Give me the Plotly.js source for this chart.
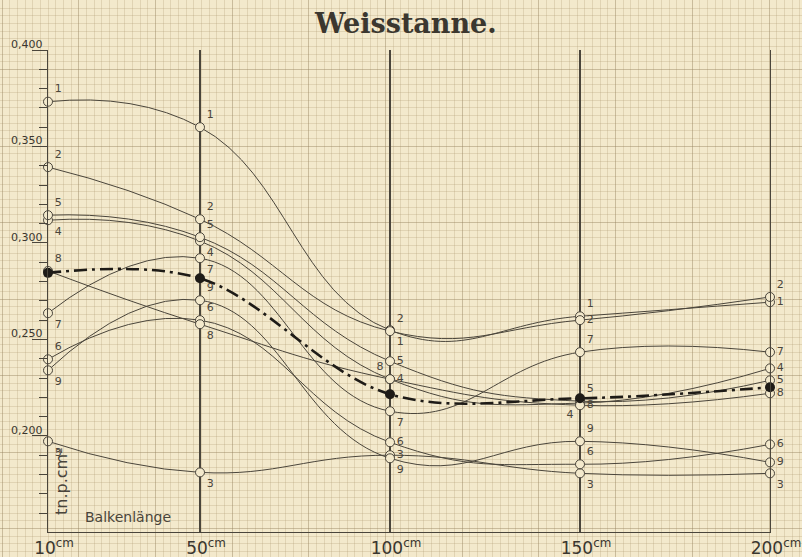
<!DOCTYPE html>
<html>
<head>
<meta charset="utf-8">
<script src="https://cdn.plot.ly/plotly-3.0.1.min.js"></script>
<style>html,body{margin:0;padding:0;background:#f3e9cc;}#chart{width:802px;height:557px;}</style>
</head>
<body>
<div id="chart"></div>
<script>
// Balkenlänge (cm)
const lengths = [10, 50, 100, 150, 200];
const lengthLabels = ['10<sup>cm</sup>', '50<sup>cm</sup>', '100<sup>cm</sup>', '150<sup>cm</sup>', '200<sup>cm</sup>'];
// tn. p. cm² values of the nine test series
const s1 = [0.3732, 0.3600, 0.2548, 0.2620, 0.2693];
const s2 = [0.3393, 0.3123, 0.2543, 0.2600, 0.2720];
const s3 = [0.1972, 0.1811, 0.1900, 0.1806, 0.1806];
const s4 = [0.3118, 0.3010, 0.2294, 0.2170, 0.2350];
const s5 = [0.3144, 0.3030, 0.2387, 0.2180, 0.2288];
const s6 = [0.2397, 0.2600, 0.1967, 0.1853, 0.1956];
const s7 = [0.2636, 0.2921, 0.2128, 0.2434, 0.2434];
const s8 = [0.2855, 0.2579, 0.2294, 0.2159, 0.2221];
const s9 = [0.2340, 0.2703, 0.1884, 0.1972, 0.1863];
const meanValues = [0.2845, 0.2817, 0.2216, 0.2195, 0.2252];
const baseline = [0.150, 0.150, 0.150, 0.150, 0.150];

const seriesList = [s1, s2, s3, s4, s5, s6, s7, s8, s9];
const seriesNames = ['1', '2', '3', '4', '5', '6', '7', '8', '9'];

// label placement (style only)
const labelPos = {
  '1': ['top right', 'top right', 'bottom right', 'top right', 'middle right'],
  '2': ['top right', 'top right', 'top right', 'middle right', 'top right'],
  '3': ['bottom right', 'bottom right', 'middle right', 'bottom right', 'bottom right'],
  '4': ['bottom right', 'bottom right', 'middle right', 'bottom left', 'middle right'],
  '5': ['top right', 'top right', 'middle right', 'top right', 'middle right'],
  '6': ['top right', 'top right', 'middle right', 'top right', 'middle right'],
  '7': ['bottom right', 'bottom right', 'bottom right', 'top right', 'middle right'],
  '8': ['top right', 'bottom right', 'top left', 'middle right', 'middle right'],
  '9': ['bottom right', 'top right', 'bottom right', 'top right', 'middle right']
};

const ink = '#4a453b';
const paper = '#f3e9cc';

const traces = [];
// empty trace holding the graph-paper subplot
traces.push({x: [], y: [], xaxis: 'x', yaxis: 'y', type: 'scatter', hoverinfo: 'skip', showlegend: false});

seriesList.forEach((vals, i) => {
  const name = seriesNames[i];
  traces.push({
    x: lengths, y: vals, xaxis: 'x2', yaxis: 'y2', type: 'scatter',
    mode: 'lines+markers+text',
    text: lengths.map(() => name),
    textposition: labelPos[name],
    textfont: {family: 'DejaVu Sans', size: 11, color: ink},
    line: {shape: 'spline', smoothing: 1.3, color: ink, width: 1},
    marker: {symbol: 'circle', size: 9, color: paper, line: {color: ink, width: 1}},
    cliponaxis: false, showlegend: false, name: name
  });
});

traces.push({
  x: lengths, y: baseline, xaxis: 'x2', yaxis: 'y2', type: 'scatter', mode: 'markers',
  marker: {symbol: 'circle-dot', size: 9, color: paper, line: {color: ink, width: 1}},
  cliponaxis: false, showlegend: false, hoverinfo: 'skip'
});

traces.push({
  x: lengths, y: meanValues, xaxis: 'x2', yaxis: 'y2', type: 'scatter', mode: 'lines+markers',
  line: {shape: 'spline', smoothing: 1.0, color: '#1e1b17', width: 2.6, dash: '13px,5px,3px,5px'},
  marker: {symbol: 'circle', size: 10, color: '#1e1b17'},
  cliponaxis: false, showlegend: false, name: 'Mittel'
});

const W = 802, H = 557;
const layout = {
  width: W, height: H, autosize: false,
  margin: {l: 0, r: 0, t: 0, b: 0, pad: 0},
  paper_bgcolor: paper, plot_bgcolor: 'rgba(0,0,0,0)',
  separators: ',.',
  title: {
    text: 'Weisstanne.', x: 0.506, xanchor: 'center', y: 0.958, yanchor: 'middle', yref: 'container',
    font: {family: 'DejaVu Serif', size: 27, color: '#3b372f', weight: 'bold'}
  },
  // graph paper
  xaxis: {
    domain: [0, 1], range: [0, W], showticklabels: false, ticks: '', zeroline: false, showline: false,
    tickmode: 'linear', tick0: 2, dtick: 76.7, showgrid: true, gridcolor: 'rgba(150,130,95,0.45)', gridwidth: 1,
    minor: {tickmode: 'linear', tick0: 2, dtick: 7.67, showgrid: true, gridcolor: 'rgba(175,155,115,0.28)', gridwidth: 1},
    fixedrange: true
  },
  yaxis: {
    domain: [0, 1], range: [H, 0], showticklabels: false, ticks: '', zeroline: false, showline: false,
    tickmode: 'linear', tick0: -7, dtick: 76.5, showgrid: true, gridcolor: 'rgba(150,130,95,0.45)', gridwidth: 1,
    minor: {tickmode: 'linear', tick0: -7, dtick: 7.65, showgrid: true, gridcolor: 'rgba(175,155,115,0.28)', gridwidth: 1},
    fixedrange: true
  },
  // data axes
  xaxis2: {
    domain: [48 / W, 770 / W], range: [10, 200], anchor: 'y2',
    tickmode: 'array', tickvals: lengths, ticktext: lengthLabels,
    showline: true, linecolor: ink, linewidth: 1.3, ticks: '',
    showgrid: true, gridcolor: ink, gridwidth: 1.2, zeroline: false,
    tickfont: {family: 'DejaVu Sans', size: 17, color: '#3a362f'},
    ticklabelshift: 6, ticklabelstandoff: 0, ticklabeloverflow: 'allow'
  },
  yaxis2: {
    domain: [1 - 532 / H, 1 - 50 / H], range: [0.1502, 0.400], anchor: 'x2',
    tickmode: 'linear', tick0: 0, dtick: 0.05, tickformat: '.3f',
    showline: true, mirror: true, linecolor: ink, linewidth: 1.3,
    ticks: 'outside', ticklen: 15, tickcolor: ink, tickwidth: 1,
    minor: {tickmode: 'linear', tick0: 0, dtick: 0.01, ticks: 'outside', ticklen: 8, tickcolor: ink, tickwidth: 1, showgrid: false},
    showgrid: false, zeroline: false,
    tickfont: {family: 'DejaVu Sans', size: 11, color: '#3a362f'},
    ticklabelshift: -6, ticklabelstandoff: -13
  },
  annotations: [
    {text: 'Balkenlänge', xref: 'x2', yref: 'y2', x: 31, y: 0.1578, showarrow: false,
     font: {family: 'DejaVu Sans', size: 14, color: '#4a453b'}},
    {text: 'tn.p.cm²', xref: 'x2', yref: 'y2', x: 13.6, y: 0.1765, showarrow: false, textangle: -90,
     font: {family: 'DejaVu Sans', size: 16, color: '#4a453b'}}
  ]
};

Plotly.newPlot('chart', traces, layout, {staticPlot: true, displayModeBar: false});
</script>
</body>
</html>
